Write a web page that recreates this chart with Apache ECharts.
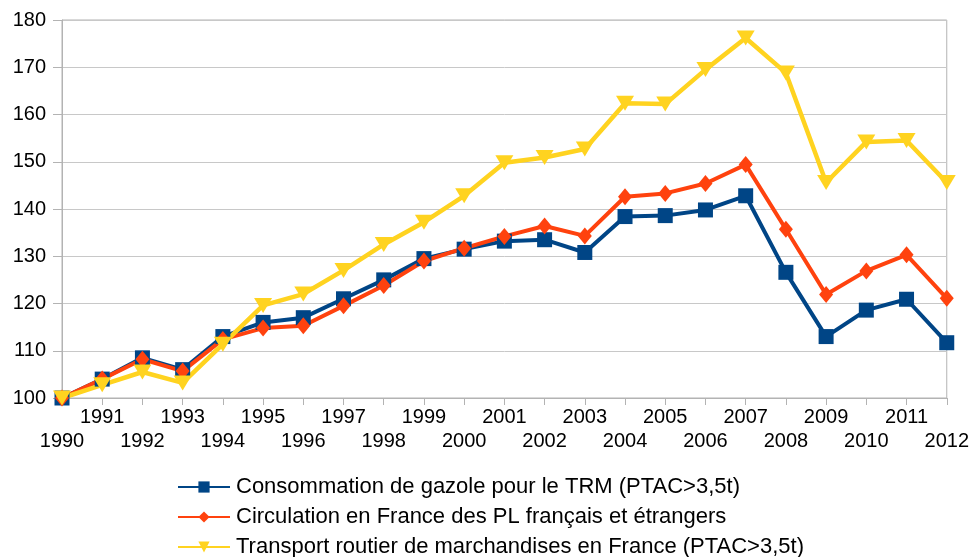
<!DOCTYPE html>
<html>
<head>
<meta charset="utf-8">
<script src="https://cdn.jsdelivr.net/npm/echarts@6/dist/echarts.min.js"></script>
<style>
  html, body { margin: 0; padding: 0; background: #fff; }
  #chart { width: 972px; height: 557px; }
</style>
</head>
<body>
<div id="chart"></div>
<script>
const years = [];
for (let y = 1990; y <= 2012; y++) years.push(String(y));

const seriesNames = [
  "Consommation de gazole pour le TRM (PTAC>3,5t)",
  "Circulation en France des PL français et étrangers",
  "Transport routier de marchandises en France (PTAC>3,5t)",
];

const gazole = [100, 104, 108.5, 106, 113, 116, 117, 121, 125, 129.5, 131.5, 133.2, 133.5, 130.8, 138.4, 138.6, 139.8, 142.8, 126.6, 113, 118.6, 120.9, 111.7];
const circulation = [100, 104, 108.2, 105.7, 112.4, 114.8, 115.3, 119.5, 123.8, 129, 131.7, 134.2, 136.4, 134.3, 142.6, 143.3, 145.4, 149.4, 135.7, 121.9, 126.9, 130.3, 121.1];
const transport = [100, 102.8, 105.5, 103.2, 111.4, 119.6, 122, 127, 132.5, 137.2, 142.8, 149.8, 150.9, 152.7, 162.4, 162.2, 169.5, 176.2, 168.8, 145.6, 154.2, 154.5, 145.6];

const colors = ["#004586", "#ff420e", "#ffd320"];
const font = "Liberation Sans, Arial, sans-serif";

const myChart = echarts.init(document.getElementById("chart"));

const option = {
  animation: false,
  textStyle: { fontFamily: font, color: "#000" },
  grid: {
    left: 62,
    right: 25,
    top: 20,
    bottom: 159,
    show: true,
    borderColor: "#b3b3b3",
    borderWidth: 1,
  },
  legend: {
    orient: "vertical",
    left: 177,
    top: 476,
    height: 100,
    padding: 0,
    itemWidth: 52,
    itemHeight: 14,
    itemGap: 8,
    textStyle: { fontFamily: font, fontSize: 22, color: "#000", padding: [0, 0, 0, 1] },
    data: seriesNames,
  },
  xAxis: {
    type: "category",
    data: years,
    boundaryGap: false,
    axisLine: { lineStyle: { color: "#b3b3b3", width: 1 } },
    axisTick: { show: true, alignWithLabel: true, length: 7, lineStyle: { color: "#b3b3b3" } },
    axisLabel: {
      interval: 0,
      margin: 7,
      fontSize: 20,
      lineHeight: 24,
      color: "#000",
      fontFamily: font,
      formatter: function (v, i) {
        return i % 2 === 0 ? "\n" + v : v;
      },
    },
    splitLine: { show: false },
  },
  yAxis: {
    type: "value",
    min: 100,
    max: 180,
    interval: 10,
    axisLine: { show: true, lineStyle: { color: "#b3b3b3", width: 1 } },
    axisTick: { show: true, length: 9, lineStyle: { color: "#b3b3b3" } },
    axisLabel: { fontSize: 20, color: "#000", fontFamily: font, margin: 16 },
    splitLine: { lineStyle: { color: "#c8c8c8", width: 1 } },
  },
  series: [
    {
      name: seriesNames[0],
      type: "line",
      data: gazole,
      color: colors[0],
      symbol: "rect",
      symbolSize: 15,
      lineStyle: { width: 4 },
    },
    {
      name: seriesNames[1],
      type: "line",
      data: circulation,
      color: colors[1],
      symbol: "diamond",
      symbolSize: [14, 17],
      lineStyle: { width: 4 },
    },
    {
      name: seriesNames[2],
      type: "line",
      data: transport,
      color: colors[2],
      symbol: "triangle",
      symbolRotate: 180,
      symbolSize: [18, 15],
      lineStyle: { width: 4.5 },
    },
  ],
};

myChart.setOption(option);
</script>
</body>
</html>
